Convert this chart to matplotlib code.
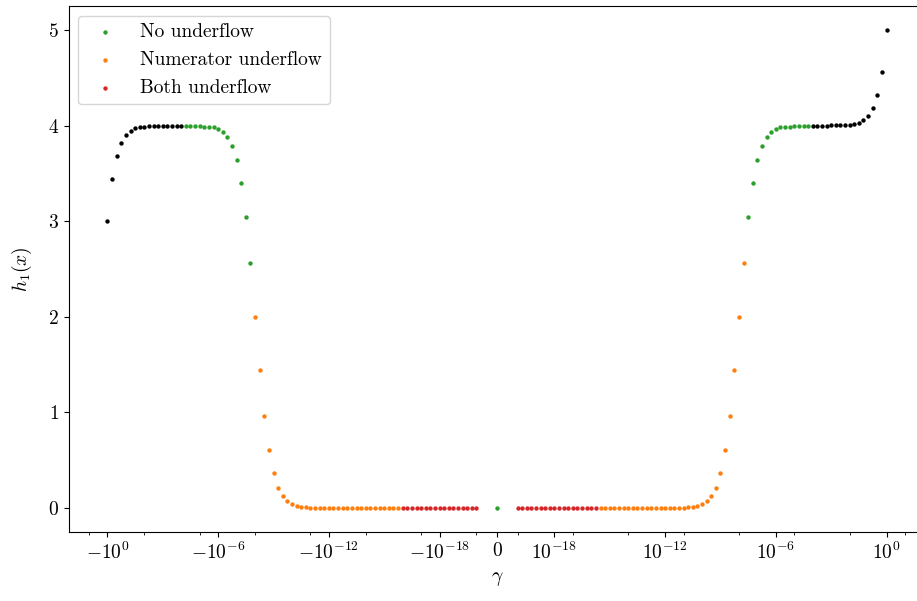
import numpy as np
import matplotlib
matplotlib.use("Agg")
import matplotlib.pyplot as plt
from matplotlib.ticker import FixedLocator

plt.rcParams['font.family'] = 'cmr10'
plt.rcParams['mathtext.fontset'] = 'cm'
plt.rcParams['axes.formatter.use_mathtext'] = True
plt.rcParams['font.size'] = 14

# exponents of |gamma|, from 1e-20 up to 1e0 (0.25 decade steps)
exponents = np.linspace(-20, 0, 81)

# h_1 for gamma > 0, ordered by exponent
h_pos = [0.0] * 37 + [
    0.007, 0.013, 0.022, 0.04, 0.07, 0.123, 0.214, 0.364, 0.605, 0.961,
    1.44, 2.0, 2.56, 3.04, 3.40, 3.64, 3.79, 3.88, 3.93, 3.96,
    3.98, 3.99, 3.99, 4.0, 4.0, 4.0, 4.0, 4.0, 4.0, 4.0,
    4.0, 4.001, 4.002, 4.003, 4.006, 4.01, 4.018, 4.03, 4.056, 4.10,
    4.18, 4.32, 4.56, 5.0]

# h_1 for gamma < 0, ordered by exponent of |gamma|
h_neg = [0.0] * 37 + [
    0.007, 0.013, 0.022, 0.04, 0.07, 0.123, 0.214, 0.364, 0.605, 0.961,
    1.44, 2.0, 2.56, 3.04, 3.40, 3.64, 3.79, 3.88, 3.93, 3.96,
    3.98, 3.99, 3.99, 4.0, 4.0, 4.0, 4.0, 4.0, 4.0, 4.0,
    4.0, 3.999, 3.998, 3.997, 3.994, 3.99, 3.982, 3.97, 3.944, 3.90,
    3.82, 3.68, 3.44, 3.0]

# status per point: R = both underflow, O = numerator underflow,
# G = no underflow, K = outside
cat_pos = "R" * 18 + "O" * 32 + "G" * 14 + "K" * 17
cat_neg = "R" * 17 + "O" * 32 + "G" * 15 + "K" * 17

h_zero = 0.0

major_ticks = [-1, -1e-6, -1e-12, -1e-18, 0, 1e-18, 1e-12, 1e-6, 1]
minor_ticks = [-10, -1e-2, -1e-5, -1e-8, -1e-11, -1e-14, -1e-17, -1e-20,
               1e-20, 1e-17, 1e-14, 1e-11, 1e-8, 1e-5, 1e-2, 10]

colors = {"G": "tab:green", "O": "tab:orange", "R": "tab:red", "K": "black"}
labels = {"G": "No underflow", "O": "Numerator underflow", "R": "Both underflow"}

gamma_pos = 10.0 ** exponents
gamma_neg = -10.0 ** exponents

fig = plt.figure(figsize=(9.17, 6.01), dpi=100)
ax = fig.add_axes([68.5 / 917, 69 / 601, 857 / 917, 526 / 601])

ms = 10
for c in ["K", "G", "O", "R"]:
    xs, ys = [], []
    for g, h, k in zip(gamma_neg, h_neg, cat_neg):
        if k == c:
            xs.append(g); ys.append(h)
    for g, h, k in zip(gamma_pos, h_pos, cat_pos):
        if k == c:
            xs.append(g); ys.append(h)
    if c == "G":
        xs.append(0.0); ys.append(h_zero)
    ax.scatter(xs, ys, s=ms, color=colors[c], linewidths=0,
               label=labels.get(c, None))

ax.set_xscale('symlog', linthresh=1e-20)
ax.xaxis.set_major_locator(FixedLocator(major_ticks))
ax.xaxis.set_minor_locator(FixedLocator(minor_ticks))
ax.set_xlabel(r'$\gamma$', labelpad=5)
ax.set_ylabel(r'$h_1(x)$', labelpad=10)

h, l = ax.get_legend_handles_labels()
order = [l.index(labels[k]) for k in ["G", "O", "R"]]
ax.legend([h[i] for i in order], [l[i] for i in order], loc='upper left')

fig.savefig("out.png", dpi=100)
